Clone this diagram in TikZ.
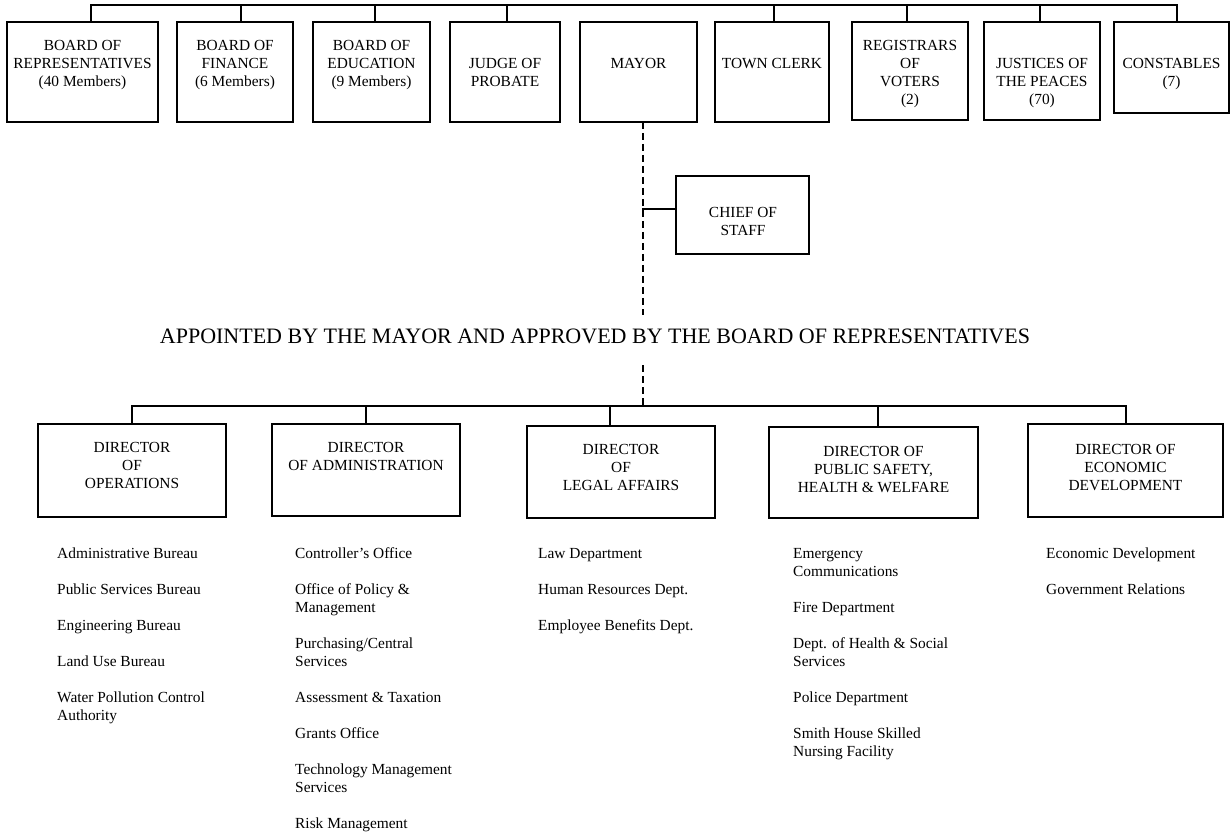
\documentclass[tikz,border=0pt]{standalone}
\usepackage{fontspec}
\setmainfont{Liberation Serif}
\newcommand\ocfont{\fontsize{15.4}{18}\selectfont}
\newcommand\octitlefont{\fontsize{22}{26}\selectfont}
\begin{document}
\begin{tikzpicture}[x=1pt,y={(0pt,-1pt)},
  obox/.style={draw, line width=1.6pt, inner sep=0pt, outer sep=0pt},
  txt/.style={inner sep=0pt, align=center, font=\ocfont, anchor=north},
  lst/.style={inner sep=0pt, align=left, font=\ocfont, anchor=north west},
  conn/.style={line width=1.5pt, line cap=rect},
  dline/.style={line width=1.3pt, dash pattern=on 7pt off 4pt}]
\fill[white] (0,0) rectangle (1231,834);
\useasboundingbox (0,0) rectangle (1231,834);

% ---------- top row boxes ----------
\node[obox, minimum width=151pt, minimum height=100pt] (b1) at (82.5,72) {};
\node[obox, minimum width=116pt, minimum height=100pt] (b2) at (235,72) {};
\node[obox, minimum width=117pt, minimum height=100pt] (b3) at (371.5,72) {};
\node[obox, minimum width=110pt, minimum height=100pt] (b4) at (505,72) {};
\node[obox, minimum width=117pt, minimum height=100pt] (b5) at (638.5,72) {};
\node[obox, minimum width=114pt, minimum height=100pt] (b6) at (772,72) {};
\node[obox, minimum width=116pt, minimum height=98pt] (b7) at (910,71) {};
\node[obox, minimum width=116pt, minimum height=98pt] (b8) at (1042,71) {};
\node[obox, minimum width=115pt, minimum height=91pt] (b9) at (1171.5,67.5) {};

\node[txt] (b1t) at (82.5,37.4) {\strut BOARD OF\\REPRESENTATIVES\\(40 Members)};
\node[txt] (b2t) at (235,37.4) {\strut BOARD OF\\FINANCE\\(6 Members)};
\node[txt] (b3t) at (371.5,37.4) {\strut BOARD OF\\EDUCATION\\(9 Members)};
\node[txt] (b4t) at (505,55.4) {\strut JUDGE OF\\PROBATE};
\node[txt] (b5t) at (638.5,55.4) {\strut MAYOR};
\node[txt] (b6t) at (772,55.4) {\strut TOWN CLERK};
\node[txt] (b7t) at (910,37.4) {\strut REGISTRARS\\OF\\VOTERS\\(2)};
\node[txt] (b8t) at (1042,55.4) {\strut JUSTICES OF\\THE PEACES\\(70)};
\node[txt] (b9t) at (1171.5,55.4) {\strut CONSTABLES\\(7)};

% top bus
\coordinate (t1) at (91,5);
\coordinate (t2) at (241,5);
\coordinate (t3) at (375,5);
\coordinate (t4) at (507,5);
\coordinate (t6) at (774,5);
\coordinate (t7) at (907,5);
\coordinate (t8) at (1040,5);
\coordinate (t9) at (1177,5);
\draw[conn] (t1) -- (t9);
\foreach \n in {1,2,3,4,6,7,8,9}{\draw[conn] (t\n) -- (t\n |- b\n.north);}

% ---------- chief of staff ----------
\node[obox, minimum width=133pt, minimum height=78pt] (chief) at (742.5,215) {};
\node[txt] (chieft) at (743,204.4) {\strut CHIEF OF\\STAFF};

\coordinate (dA) at (643,315);
\coordinate (dB) at (643,365);
\coordinate (cs) at (643,209);
\draw[dline] (b5.south -| dA) -- (dA);
\draw[conn] (cs) -- (cs -| chief.west);

% ---------- title ----------
\node[font=\octitlefont, anchor=base, inner sep=0pt] (title) at (595,343)
  {APPOINTED BY THE MAYOR AND APPROVED BY THE BOARD OF REPRESENTATIVES};

% ---------- directors ----------
\node[obox, minimum width=188pt, minimum height=93pt] (ops) at (132,470.5) {};
\node[obox, minimum width=188pt, minimum height=92pt] (adm) at (366,470) {};
\node[obox, minimum width=188pt, minimum height=92pt] (leg) at (621,472) {};
\node[obox, minimum width=209pt, minimum height=91pt] (psf) at (873.5,472.5) {};
\node[obox, minimum width=195pt, minimum height=93pt] (eco) at (1125.5,470.5) {};

\node[txt] (opst) at (132,439.4) {\strut DIRECTOR\\OF\\OPERATIONS};
\node[txt] (admt) at (366,439.4) {\strut DIRECTOR\\OF ADMINISTRATION};
\node[txt] (legt) at (621,441.4) {\strut DIRECTOR\\OF\\LEGAL AFFAIRS};
\node[txt] (psft) at (873.5,443.4) {\strut DIRECTOR OF\\PUBLIC SAFETY,\\HEALTH \& WELFARE};
\node[txt] (ecot) at (1125.5,441.4) {\strut DIRECTOR OF\\ECONOMIC\\DEVELOPMENT};

\coordinate (u1) at (132,406);
\coordinate (u2) at (366,406);
\coordinate (u3) at (610,406);
\coordinate (u4) at (878,406);
\coordinate (u5) at (1126,406);
\coordinate (dC) at (643,406);
\draw[dline] (dB) -- (dC);
\draw[conn] (u1) -- (u5);
\draw[conn] (u1) -- (u1 |- ops.north);
\draw[conn] (u2) -- (u2 |- adm.north);
\draw[conn] (u3) -- (u3 |- leg.north);
\draw[conn] (u4) -- (u4 |- psf.north);
\draw[conn] (u5) -- (u5 |- eco.north);

% ---------- lists ----------
\node[lst] (l1) at (57,545.4) {\strut Administrative Bureau\\[18pt]
  Public Services Bureau\\[18pt]
  Engineering Bureau\\[18pt]
  Land Use Bureau\\[18pt]
  Water Pollution Control\\Authority};
\node[lst] (l2) at (295,545.4) {\strut Controller’s Office\\[18pt]
  Office of Policy \&\\Management\\[18pt]
  Purchasing/Central\\Services\\[18pt]
  Assessment \& Taxation\\[18pt]
  Grants Office\\[18pt]
  Technology Management\\Services\\[18pt]
  Risk Management};
\node[lst] (l3) at (538,545.4) {\strut Law Department\\[18pt]
  Human Resources Dept.\\[18pt]
  Employee Benefits Dept.};
\node[lst] (l4) at (793,545.4) {\strut Emergency\\Communications\\[18pt]
  Fire Department\\[18pt]
  Dept. of Health \& Social\\Services\\[18pt]
  Police Department\\[18pt]
  Smith House Skilled\\Nursing Facility};
\node[lst] (l5) at (1046,545.4) {\strut Economic Development\\[18pt]
  Government Relations};
\end{tikzpicture}
\end{document}
